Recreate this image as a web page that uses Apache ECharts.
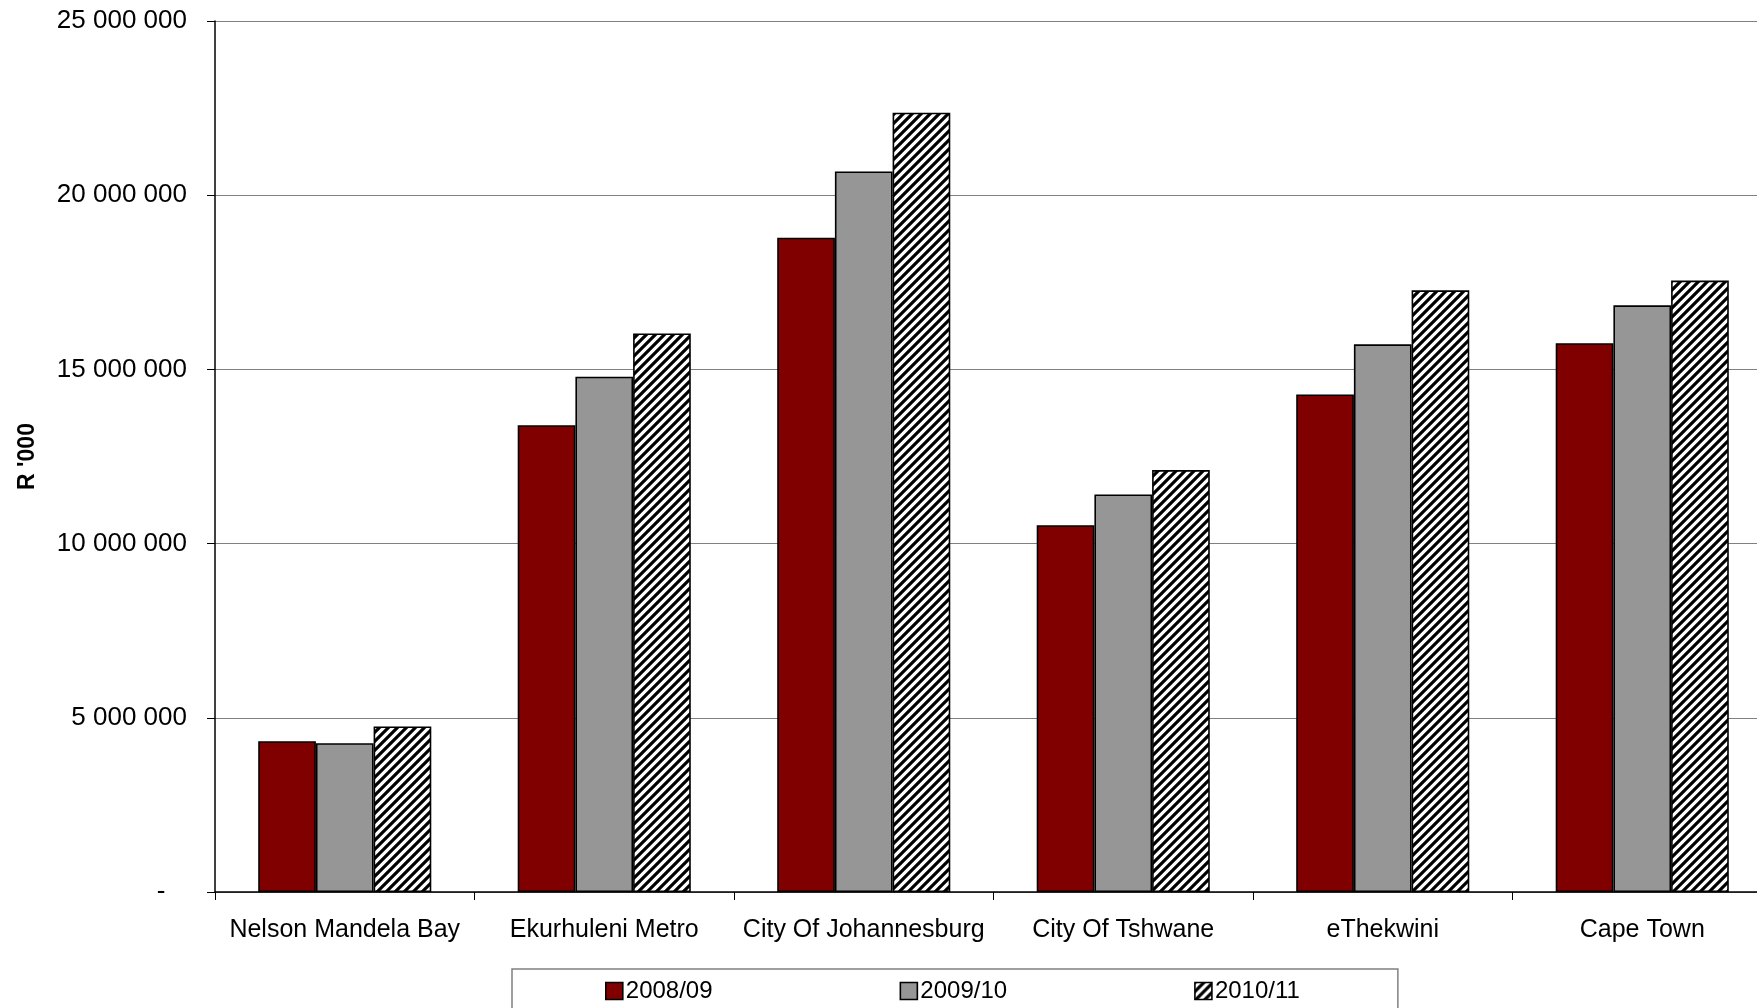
<!DOCTYPE html>
<html>
<head>
<meta charset="utf-8">
<script src="https://cdn.jsdelivr.net/npm/echarts@6/dist/echarts.min.js"></script>
<style>
html,body{margin:0;padding:0;background:#fff;}
#chart{width:1757px;height:1008px;}
</style>
</head>
<body>
<div id="chart"></div>
<script>
const categories = ['Nelson Mandela Bay', 'Ekurhuleni Metro', 'City Of Johannesburg', 'City Of Tshwane', 'eThekwini', 'Cape Town'];
const seriesNames = ['2008/09', '2009/10', '2010/11'];
const values2008 = [4330000, 13400000, 18780000, 10530000, 14280000, 15750000];
const values2009 = [4270000, 14790000, 20680000, 11410000, 15720000, 16840000];
const values2010 = [4750000, 16030000, 22370000, 12110000, 17270000, 17550000];
const yTicks = [0, 5000000, 10000000, 15000000, 20000000, 25000000];

function makeHatch() {
  const s = 9;
  const c = document.createElement('canvas');
  c.width = s; c.height = s;
  const g = c.getContext('2d');
  g.fillStyle = '#fff';
  g.fillRect(0, 0, s, s);
  g.strokeStyle = '#000';
  g.lineWidth = 3.2;
  g.beginPath();
  g.moveTo(-s, s); g.lineTo(s, -s);
  g.moveTo(0, s); g.lineTo(s, 0);
  g.moveTo(0, 2 * s); g.lineTo(2 * s, 0);
  g.stroke();
  return c;
}
const hatch = { image: makeHatch(), repeat: 'repeat' };

function fmt(v) {
  if (v === 0) return '-   ';
  return String(Math.round(v)).replace(/\B(?=(\d{3})+(?!\d))/g, ' ');
}

const chart = echarts.init(document.getElementById('chart'), null, { renderer: 'canvas' });
const font = 'Liberation Sans, Arial, sans-serif';
const border = { borderColor: '#000', borderWidth: 1.6 };

chart.setOption({
  animation: false,
  backgroundColor: '#fff',
  textStyle: { fontFamily: font },
  grid: { left: 215, top: 21, width: 1557, height: 871, containLabel: false, outerBoundsMode: 'none' },
  legend: {
    data: seriesNames.map(n => ({ name: n, icon: 'rect' })),
    left: 512,
    top: 969,
    orient: 'horizontal',
    itemWidth: 17,
    itemHeight: 17,
    itemGap: 187,
    padding: [10, 98, 30, 93],
    borderColor: '#808080',
    borderWidth: 1.5,
    textStyle: { fontFamily: font, fontSize: 24, color: '#000', padding: [0, 0, 0, -2] },
    itemStyle: { borderColor: '#000', borderWidth: 1.6 }
  },
  xAxis: {
    type: 'category',
    data: categories,
    axisLine: { lineStyle: { color: '#000', width: 1.5 } },
    axisTick: { show: true, length: 8, interval: 0, lineStyle: { color: '#000' }, alignWithLabel: false },
    axisLabel: { fontFamily: font, fontSize: 25, color: '#000', margin: 26, interval: 0 }
  },
  yAxis: {
    type: 'value',
    min: 0,
    max: 25000000,
    interval: 5000000,
    name: "R '000",
    nameLocation: 'middle',
    nameGap: 176,
    nameRotate: 90,
    nameTextStyle: { fontFamily: font, fontSize: 23, fontWeight: 'bold', color: '#000' },
    axisLine: { show: true, lineStyle: { color: '#000', width: 1.5 } },
    axisTick: { show: true, length: 8, lineStyle: { color: '#000' } },
    axisLabel: { fontFamily: font, fontSize: 26, color: '#000', margin: 28, formatter: fmt },
    splitLine: { show: true, lineStyle: { color: '#808080', width: 1.2 } }
  },
  series: [
    { name: seriesNames[0], type: 'bar', data: values2008, barGap: '0%', barCategoryGap: '33.3%',
      itemStyle: Object.assign({ color: '#800000' }, border) },
    { name: seriesNames[1], type: 'bar', data: values2009, barGap: '0%', barCategoryGap: '33.3%',
      itemStyle: Object.assign({ color: '#969696' }, border) },
    { name: seriesNames[2], type: 'bar', data: values2010, barGap: '0%', barCategoryGap: '33.3%',
      itemStyle: Object.assign({ color: hatch }, border) }
  ]
});
</script>
</body>
</html>
